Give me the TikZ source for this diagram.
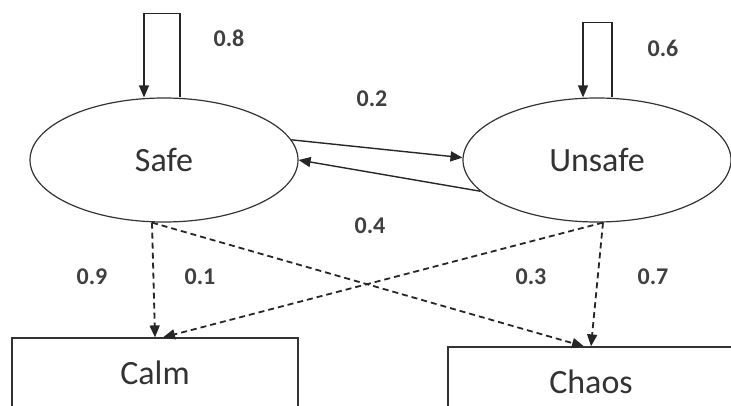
\documentclass[tikz,border=0pt]{standalone}
\usepackage{fontspec}
\setmainfont{Carlito}
\usetikzlibrary{arrows.meta,shapes.geometric}

\begin{document}
\begin{tikzpicture}[x=1pt,y=-1pt,
  link/.style={draw=black!85, line width=1.4pt},
  tip/.style={-{Triangle[length=12pt,width=10pt]}},
  state/.style={ellipse, draw=black!80, line width=1.2pt, minimum width=268pt,
    minimum height=124pt, inner sep=0pt, font=\fontsize{34}{40}\selectfont, text=black!80},
  outcome/.style={rectangle, draw=black!80, line width=1.2pt, minimum width=286pt,
    minimum height=70pt, inner sep=0pt, font=\fontsize{34}{40}\selectfont, text=black!80},
  prob/.style={font=\fontsize{24}{28}\selectfont\bfseries, text=black!75},
  emit/.style={link, tip, line width=1.8pt, dash pattern=on 6pt off 4pt}
]
\useasboundingbox (0,0) rectangle (731,406);
\clip (0,0) rectangle (731,406);

% hidden states
\node[state] (safe) at (164,160) {Safe};
\node[state] (unsafe) at (597,160) {Unsafe};

% observations
\node[outcome] (calm) at (155,373) {Calm};
\node[outcome] (chaos) at (591,382) {Chaos};

% self transitions
\draw[link, tip] ([xshift=16pt]safe.north) -- ++(0,-84) -| ([xshift=-20pt]safe.north);
\draw[link, tip] ([xshift=15pt]unsafe.north) -- ++(0,-75) -| ([xshift=-14pt]unsafe.north);

% transitions between states
\draw[link, tip] (safe.9) -- (unsafe.179);
\draw[link, tip] (unsafe.195) -- (safe.east);

% emissions
\coordinate (sb) at ([xshift=-12pt]safe.south);
\coordinate (ub) at ([xshift=6pt]unsafe.south);
\draw[emit] (sb) -- (calm.north);
\draw[emit] (sb) -- ([xshift=-7pt]chaos.north);
\draw[emit] (ub) -- ([xshift=8pt]calm.north);
\draw[emit] (ub) -- (chaos.north);

% probabilities
\node[prob] (p88) at (229,38) {0.8};
\node[prob] (p66) at (663,48) {0.6};
\node[prob] (p12) at (372,99) {0.2};
\node[prob] (p21) at (370,226) {0.4};
\node[prob] (e11) at (92,277) {0.9};
\node[prob] (e12) at (200,277) {0.1};
\node[prob] (e21) at (531,277) {0.3};
\node[prob] (e22) at (653,277) {0.7};
\end{tikzpicture}
\end{document}
